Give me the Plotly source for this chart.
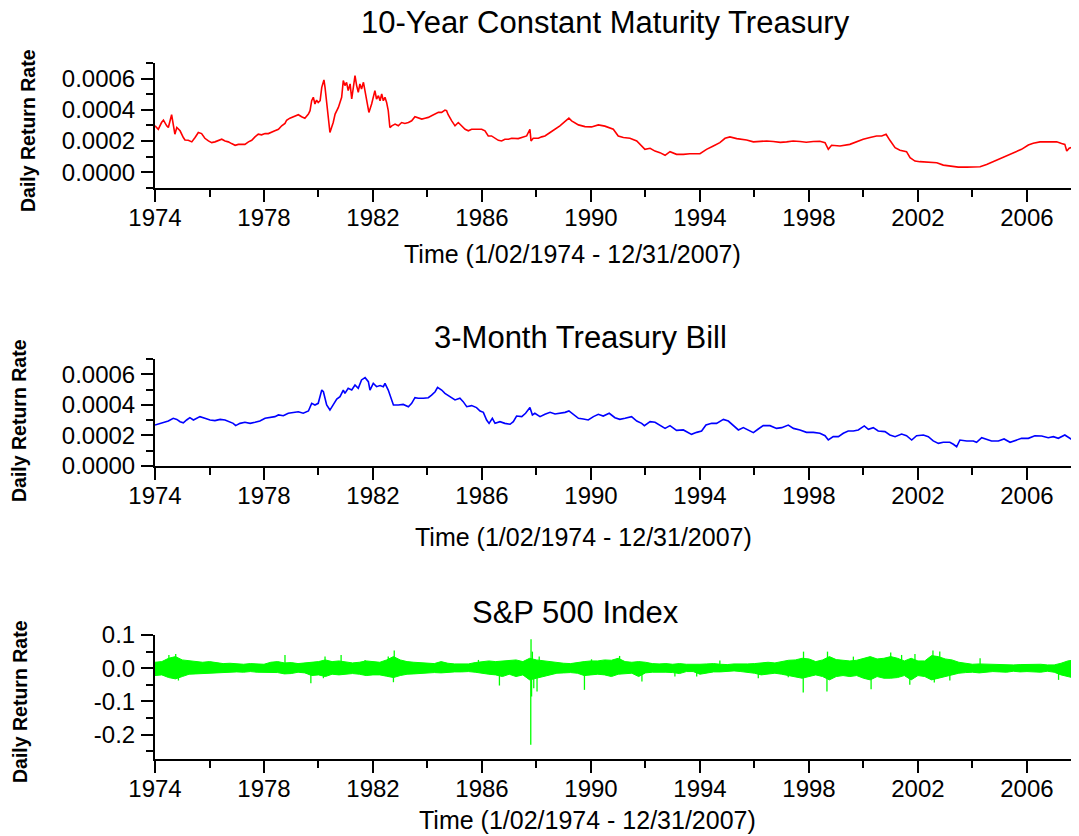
import plotly.graph_objects as go

FONT = "Liberation Sans, Arial, sans-serif"

# ---- 10-Year Constant Maturity Treasury (daily return rate) ----
ty10_year = [
    1974.00, 1974.12, 1974.24, 1974.31, 1974.43, 1974.49, 1974.61, 1974.67, 1974.73, 1974.80,
    1974.92, 1975.04, 1975.10, 1975.22, 1975.35, 1975.47, 1975.59, 1975.71, 1975.83, 1975.96,
    1976.08, 1976.20, 1976.32, 1976.45, 1976.57, 1976.69, 1976.81, 1976.94, 1977.06, 1977.18,
    1977.30, 1977.43, 1977.55, 1977.67, 1977.79, 1977.91, 1978.04, 1978.16, 1978.28, 1978.40,
    1978.53, 1978.65, 1978.77, 1978.83, 1978.95, 1979.14, 1979.26, 1979.38, 1979.50, 1979.63,
    1979.69, 1979.75, 1979.81, 1979.87, 1979.93, 1979.99, 1980.06, 1980.12, 1980.20, 1980.24,
    1980.30, 1980.36, 1980.42, 1980.48, 1980.54, 1980.61, 1980.73, 1980.85, 1980.91, 1980.97,
    1981.03, 1981.09, 1981.16, 1981.22, 1981.28, 1981.34, 1981.40, 1981.46, 1981.52, 1981.58,
    1981.65, 1981.71, 1981.77, 1981.85, 1981.95, 1982.01, 1982.07, 1982.13, 1982.20, 1982.26,
    1982.32, 1982.38, 1982.44, 1982.50, 1982.56, 1982.62, 1982.69, 1982.81, 1982.93, 1983.05,
    1983.17, 1983.30, 1983.42, 1983.54, 1983.66, 1983.79, 1983.91, 1984.03, 1984.15, 1984.28,
    1984.40, 1984.52, 1984.64, 1984.70, 1984.76, 1984.89, 1985.01, 1985.13, 1985.25, 1985.38,
    1985.50, 1985.62, 1985.87, 1985.99, 1986.11, 1986.23, 1986.35, 1986.48, 1986.60, 1986.72,
    1986.84, 1986.97, 1987.09, 1987.33, 1987.46, 1987.64, 1987.76, 1987.80, 1987.88, 1988.07,
    1988.19, 1988.31, 1988.50, 1988.68, 1988.86, 1989.05, 1989.19, 1989.29, 1989.41, 1989.54,
    1989.78, 1990.02, 1990.27, 1990.51, 1990.82, 1991.00, 1991.19, 1991.43, 1991.68, 1991.86,
    1991.98, 1992.17, 1992.35, 1992.53, 1992.72, 1992.90, 1993.14, 1993.39, 1993.63, 1994.00,
    1994.24, 1994.49, 1994.73, 1994.92, 1995.10, 1995.35, 1995.71, 1995.96, 1996.20, 1996.45,
    1996.69, 1996.95, 1997.18, 1997.42, 1997.67, 1997.90, 1998.16, 1998.40, 1998.59, 1998.71,
    1998.83, 1999.14, 1999.50, 1999.75, 1999.99, 2000.24, 2000.48, 2000.67, 2000.83, 2000.97,
    2001.16, 2001.34, 2001.58, 2001.71, 2001.89, 2002.07, 2002.44, 2002.69, 2002.93, 2003.30,
    2003.48, 2003.79, 2004.28, 2004.52, 2004.76, 2005.01, 2005.25, 2005.56, 2005.80, 2006.05,
    2006.23, 2006.48, 2006.84, 2007.09, 2007.27, 2007.39, 2007.46, 2007.55, 2007.65, 2007.76,
    2007.85, 2007.99,
]
ty10_rate = [
    0.000297, 0.000275, 0.000318, 0.000333, 0.000297, 0.000286, 0.000368, 0.000297, 0.000243, 0.000286,
    0.000265, 0.000222, 0.000206, 0.000204, 0.000194, 0.000222, 0.000254, 0.000247, 0.000217, 0.000200,
    0.000189, 0.000194, 0.000204, 0.000211, 0.000200, 0.000194, 0.000183, 0.000172, 0.000178, 0.000178,
    0.000178, 0.000194, 0.000204, 0.000226, 0.000243, 0.000239, 0.000247, 0.000247, 0.000254, 0.000265,
    0.000275, 0.000297, 0.000312, 0.000333, 0.000346, 0.000361, 0.000368, 0.000355, 0.000346, 0.000372,
    0.000394, 0.000458, 0.000480, 0.000437, 0.000462, 0.000447, 0.000458, 0.000544, 0.000591, 0.000544,
    0.000437, 0.000329, 0.000254, 0.000286, 0.000318, 0.000372, 0.000415, 0.000480, 0.000587, 0.000555,
    0.000576, 0.000523, 0.000566, 0.000469, 0.000544, 0.000619, 0.000555, 0.000512, 0.000566, 0.000533,
    0.000576, 0.000512, 0.000469, 0.000383, 0.000437, 0.000480, 0.000523, 0.000469, 0.000490, 0.000458,
    0.000501, 0.000458, 0.000480, 0.000447, 0.000394, 0.000286, 0.000297, 0.000308, 0.000297, 0.000318,
    0.000312, 0.000318, 0.000329, 0.000355, 0.000346, 0.000340, 0.000346, 0.000351, 0.000361, 0.000372,
    0.000383, 0.000383, 0.000398, 0.000394, 0.000368, 0.000329, 0.000297, 0.000318, 0.000297, 0.000275,
    0.000265, 0.000275, 0.000275, 0.000275, 0.000265, 0.000232, 0.000232, 0.000217, 0.000204, 0.000200,
    0.000211, 0.000211, 0.000217, 0.000215, 0.000222, 0.000232, 0.000275, 0.000200, 0.000217, 0.000217,
    0.000226, 0.000232, 0.000254, 0.000275, 0.000297, 0.000325, 0.000346, 0.000329, 0.000318, 0.000303,
    0.000292, 0.000290, 0.000303, 0.000295, 0.000275, 0.000232, 0.000222, 0.000217, 0.000200, 0.000168,
    0.000146, 0.000153, 0.000135, 0.000125, 0.000108, 0.000131, 0.000114, 0.000114, 0.000118, 0.000118,
    0.000146, 0.000168, 0.000189, 0.000217, 0.000226, 0.000215, 0.000206, 0.000194, 0.000196, 0.000200,
    0.000196, 0.000191, 0.000194, 0.000200, 0.000196, 0.000192, 0.000196, 0.000198, 0.000189, 0.000146,
    0.000172, 0.000168, 0.000178, 0.000196, 0.000211, 0.000222, 0.000232, 0.000232, 0.000243, 0.000204,
    0.000157, 0.000140, 0.000131, 0.000092, 0.000071, 0.000067, 0.000065, 0.000060, 0.000045, 0.000039,
    0.000032, 0.000032, 0.000034, 0.000049, 0.000067, 0.000082, 0.000103, 0.000125, 0.000146, 0.000174,
    0.000185, 0.000194, 0.000196, 0.000194, 0.000183, 0.000178, 0.000135, 0.000153, 0.000160, 0.000120,
    0.000125, 0.000115,
]

# ---- 3-Month Treasury Bill ----
tb3m_year = [
    1974.00, 1974.18, 1974.37, 1974.49, 1974.67, 1974.80, 1974.92, 1975.04, 1975.16, 1975.28,
    1975.41, 1975.53, 1975.65, 1975.83, 1976.02, 1976.20, 1976.39, 1976.57, 1976.75, 1976.87,
    1976.96, 1977.12, 1977.30, 1977.49, 1977.67, 1977.85, 1978.04, 1978.22, 1978.40, 1978.53,
    1978.71, 1978.89, 1979.08, 1979.26, 1979.44, 1979.63, 1979.75, 1979.87, 1979.99, 1980.12,
    1980.18, 1980.24, 1980.30, 1980.42, 1980.54, 1980.67, 1980.79, 1980.91, 1980.97, 1981.09,
    1981.22, 1981.34, 1981.46, 1981.58, 1981.71, 1981.83, 1981.89, 1982.01, 1982.13, 1982.26,
    1982.38, 1982.44, 1982.56, 1982.69, 1982.75, 1982.93, 1983.11, 1983.30, 1983.42, 1983.54,
    1983.66, 1983.85, 1984.03, 1984.15, 1984.28, 1984.37, 1984.52, 1984.64, 1984.83, 1985.01,
    1985.19, 1985.31, 1985.44, 1985.62, 1985.80, 1985.93, 1986.05, 1986.17, 1986.26, 1986.38,
    1986.48, 1986.66, 1986.84, 1987.03, 1987.15, 1987.27, 1987.46, 1987.60, 1987.76, 1987.85,
    1987.94, 1988.13, 1988.31, 1988.50, 1988.68, 1988.86, 1989.05, 1989.19, 1989.35, 1989.54,
    1989.72, 1989.90, 1990.09, 1990.27, 1990.45, 1990.67, 1990.88, 1991.06, 1991.25, 1991.49,
    1991.68, 1991.86, 1991.96, 1992.17, 1992.35, 1992.53, 1992.72, 1992.90, 1993.14, 1993.39,
    1993.57, 1993.69, 1993.88, 1994.06, 1994.22, 1994.43, 1994.61, 1994.86, 1995.04, 1995.22,
    1995.41, 1995.59, 1995.77, 1995.96, 1996.14, 1996.32, 1996.57, 1996.81, 1997.00, 1997.24,
    1997.43, 1997.67, 1997.91, 1998.16, 1998.40, 1998.59, 1998.71, 1998.89, 1999.08, 1999.26,
    1999.44, 1999.63, 1999.81, 2000.03, 2000.18, 2000.36, 2000.54, 2000.79, 2000.97, 2001.16,
    2001.40, 2001.58, 2001.77, 2001.95, 2002.20, 2002.38, 2002.56, 2002.75, 2002.93, 2003.17,
    2003.30, 2003.42, 2003.54, 2003.79, 2004.03, 2004.15, 2004.34, 2004.52, 2004.70, 2004.95,
    2005.16, 2005.38, 2005.56, 2005.80, 2006.05, 2006.29, 2006.54, 2006.78, 2006.97, 2007.15,
    2007.39, 2007.55, 2007.76, 2007.95,
]
tb3m_rate = [
    0.000268, 0.000279, 0.000290, 0.000294, 0.000312, 0.000305, 0.000290, 0.000283, 0.000301, 0.000316,
    0.000301, 0.000312, 0.000323, 0.000312, 0.000301, 0.000297, 0.000305, 0.000301, 0.000290, 0.000279,
    0.000264, 0.000279, 0.000286, 0.000279, 0.000286, 0.000294, 0.000312, 0.000316, 0.000323, 0.000334,
    0.000329, 0.000345, 0.000351, 0.000355, 0.000345, 0.000360, 0.000410, 0.000399, 0.000410, 0.000497,
    0.000486, 0.000443, 0.000399, 0.000366, 0.000399, 0.000438, 0.000454, 0.000497, 0.000475, 0.000508,
    0.000497, 0.000530, 0.000508, 0.000563, 0.000578, 0.000552, 0.000497, 0.000541, 0.000519, 0.000526,
    0.000519, 0.000541, 0.000497, 0.000432, 0.000399, 0.000399, 0.000403, 0.000388, 0.000410, 0.000447,
    0.000443, 0.000443, 0.000447, 0.000464, 0.000486, 0.000515, 0.000497, 0.000475, 0.000454, 0.000432,
    0.000443, 0.000421, 0.000388, 0.000395, 0.000382, 0.000360, 0.000351, 0.000301, 0.000279, 0.000312,
    0.000279, 0.000290, 0.000279, 0.000273, 0.000290, 0.000327, 0.000323, 0.000345, 0.000382, 0.000334,
    0.000345, 0.000323, 0.000338, 0.000351, 0.000340, 0.000345, 0.000351, 0.000360, 0.000338, 0.000312,
    0.000307, 0.000301, 0.000323, 0.000338, 0.000327, 0.000345, 0.000316, 0.000305, 0.000312, 0.000323,
    0.000294, 0.000279, 0.000264, 0.000290, 0.000286, 0.000264, 0.000246, 0.000264, 0.000233, 0.000236,
    0.000220, 0.000207, 0.000220, 0.000229, 0.000268, 0.000279, 0.000279, 0.000305, 0.000294, 0.000268,
    0.000236, 0.000251, 0.000236, 0.000218, 0.000242, 0.000264, 0.000264, 0.000246, 0.000251, 0.000268,
    0.000246, 0.000236, 0.000220, 0.000220, 0.000214, 0.000198, 0.000170, 0.000192, 0.000192, 0.000214,
    0.000229, 0.000229, 0.000236, 0.000262, 0.000240, 0.000251, 0.000229, 0.000225, 0.000203, 0.000192,
    0.000209, 0.000198, 0.000170, 0.000198, 0.000203, 0.000192, 0.000164, 0.000148, 0.000155, 0.000155,
    0.000142, 0.000126, 0.000170, 0.000164, 0.000164, 0.000155, 0.000185, 0.000177, 0.000164, 0.000164,
    0.000177, 0.000155, 0.000164, 0.000181, 0.000181, 0.000198, 0.000196, 0.000185, 0.000192, 0.000181,
    0.000203, 0.000185, 0.000160, 0.000158,
]

# ---- S&P 500 Index: quarterly envelope of the daily returns, plus the isolated spikes ----
sp_year = [1974 + 0.25 * i for i in range(137)]
sp_hi = [
    0.018, 0.020, 0.030, 0.035, 0.025, 0.022, 0.020, 0.018, 0.020, 0.016, 0.014, 0.015,
    0.013, 0.012, 0.014, 0.013, 0.012, 0.018, 0.020, 0.016, 0.017, 0.014, 0.016, 0.018,
    0.020, 0.025, 0.020, 0.022, 0.020, 0.016, 0.018, 0.022, 0.020, 0.018, 0.025, 0.035,
    0.025, 0.020, 0.018, 0.016, 0.015, 0.014, 0.020, 0.015, 0.013, 0.012, 0.013, 0.017,
    0.020, 0.022, 0.020, 0.022, 0.024, 0.025, 0.020, 0.030, 0.025, 0.022, 0.020, 0.016,
    0.015, 0.014, 0.018, 0.020, 0.022, 0.022, 0.025, 0.024, 0.030, 0.020, 0.018, 0.020,
    0.018, 0.014, 0.013, 0.014, 0.012, 0.014, 0.012, 0.011, 0.012, 0.013, 0.014, 0.012,
    0.011, 0.013, 0.012, 0.013, 0.014, 0.017, 0.018, 0.016, 0.020, 0.024, 0.025, 0.030,
    0.028, 0.020, 0.025, 0.035, 0.026, 0.025, 0.022, 0.024, 0.030, 0.035, 0.028, 0.030,
    0.035, 0.030, 0.022, 0.030, 0.022, 0.022, 0.038, 0.035, 0.028, 0.025, 0.018, 0.014,
    0.012, 0.013, 0.012, 0.011, 0.012, 0.011, 0.010, 0.011, 0.011, 0.013, 0.012, 0.010,
    0.010, 0.015, 0.022, 0.025, 0.022,
]
sp_lo = [
    -0.022, -0.020, -0.028, -0.032, -0.025, -0.018, -0.017, -0.016, -0.013, -0.014, -0.012, -0.012,
    -0.011, -0.012, -0.010, -0.012, -0.013, -0.014, -0.013, -0.017, -0.016, -0.012, -0.014, -0.022,
    -0.020, -0.025, -0.018, -0.020, -0.018, -0.016, -0.018, -0.022, -0.020, -0.020, -0.024, -0.028,
    -0.022, -0.018, -0.017, -0.015, -0.014, -0.013, -0.014, -0.012, -0.011, -0.011, -0.010, -0.012,
    -0.016, -0.018, -0.020, -0.025, -0.018, -0.025, -0.020, -0.035, -0.030, -0.025, -0.018, -0.015,
    -0.014, -0.013, -0.015, -0.022, -0.020, -0.018, -0.020, -0.025, -0.018, -0.017, -0.015, -0.025,
    -0.014, -0.012, -0.011, -0.012, -0.013, -0.016, -0.010, -0.010, -0.018, -0.014, -0.011, -0.011,
    -0.010, -0.008, -0.010, -0.012, -0.015, -0.020, -0.018, -0.015, -0.018, -0.022, -0.025, -0.030,
    -0.025, -0.020, -0.025, -0.035, -0.025, -0.022, -0.025, -0.022, -0.030, -0.035, -0.025, -0.030,
    -0.030, -0.028, -0.022, -0.035, -0.022, -0.025, -0.035, -0.030, -0.025, -0.020, -0.015, -0.013,
    -0.012, -0.014, -0.011, -0.010, -0.011, -0.012, -0.009, -0.011, -0.010, -0.012, -0.012, -0.009,
    -0.012, -0.020, -0.025, -0.030, -0.025,
]
sp_spike_year = [
    1974.51, 1974.76, 1974.86, 1978.77, 1979.72, 1980.18, 1980.24, 1980.83, 1981.71, 1982.56,
    1982.75, 1982.78, 1985.87, 1986.64, 1987.79, 1987.80, 1987.82, 1987.85, 1987.90, 1988.02,
    1988.10, 1989.76, 1990.02, 1991.05, 1991.87, 1993.08, 1993.88, 1994.73, 1996.14, 1997.24,
    1997.79, 1997.80, 1998.66, 1998.68, 1999.63, 2000.28, 2001.00, 2001.40, 2001.70, 2001.89,
    2002.55, 2002.60, 2002.80, 2003.17, 2004.28, 2007.16,
]
sp_spike_val = [
    0.040, 0.043, -0.037, 0.040, -0.045, -0.030, 0.035, 0.040, 0.025, 0.035,
    -0.042, 0.053, 0.025, -0.052, -0.230, 0.087, -0.085, 0.050, -0.060, -0.070,
    0.035, -0.065, 0.027, 0.037, -0.040, -0.025, -0.025, 0.023, -0.030, -0.027,
    -0.073, 0.050, -0.070, 0.050, 0.035, -0.063, 0.047, 0.040, -0.050, 0.043,
    0.053, -0.043, 0.050, -0.037, 0.030, -0.035,
]

year_ticks = [1974, 1978, 1982, 1986, 1990, 1994, 1998, 2002, 2006]
rate_ticks = [0.0, 0.0002, 0.0004, 0.0006]
rate_labels = ["0.0000", "0.0002", "0.0004", "0.0006"]
sp_ticks = [0.1, 0.0, -0.1, -0.2]
sp_labels = ["0.1", "0.0", "-0.1", "-0.2"]

# the page adds an 8px body margin, so the figure is drawn 8px in from the corner
OFF = 8
W, H = 1079 - OFF, 836 - OFF
L, R, T, B = 155 - OFF, 0, 63 - OFF, 77
PW = W - L - R
PH = H - T - B


def px(x):
    # page pixel -> paper x
    return (x - OFF - L) / PW


def py(y):
    # page pixel -> paper y
    return (H - B - (y - OFF)) / PH


def dom(y_bottom, y_top):
    return [max(0.0, py(y_bottom)), min(1.0, py(y_top))]


fig = go.Figure()

fig.add_trace(go.Scatter(x=ty10_year, y=ty10_rate, mode="lines",
                         line=dict(color="#ff0000", width=1.6), xaxis="x", yaxis="y"))
fig.add_trace(go.Scatter(x=tb3m_year, y=tb3m_rate, mode="lines",
                         line=dict(color="#0000ff", width=1.6), xaxis="x2", yaxis="y2"))

# S&P band
fig.add_trace(go.Scatter(x=sp_year, y=sp_hi, mode="lines",
                         line=dict(color="#00ff00", width=1), xaxis="x3", yaxis="y3"))
fig.add_trace(go.Scatter(x=sp_year, y=sp_lo, mode="lines", fill="tonexty",
                         fillcolor="#00ff00", line=dict(color="#00ff00", width=1),
                         xaxis="x3", yaxis="y3"))
spike_x, spike_y = [], []
for yr, v in zip(sp_spike_year, sp_spike_val):
    spike_x += [yr, yr, None]
    spike_y += [0, v, None]
fig.add_trace(go.Scatter(x=spike_x, y=spike_y, mode="lines",
                         line=dict(color="#00ff00", width=1.3), xaxis="x3", yaxis="y3"))

axis_common = dict(
    showline=True, linecolor="black", linewidth=2,
    ticks="outside", ticklen=12, tickwidth=2, tickcolor="black",
    showgrid=False, zeroline=False,
    tickfont=dict(family=FONT, size=24, color="black"),
)
x_common = dict(axis_common, range=[1974, 2007.91], tickvals=year_ticks, tickformat="d",
                ticklabelstandoff=-5,
                minor=dict(dtick=2, tick0=1974, ticks="outside", ticklen=7,
                           tickwidth=2, tickcolor="black"))
y_minor_rate = dict(dtick=0.0001, tick0=0, ticks="outside", ticklen=7,
                    tickwidth=2, tickcolor="black")

fig.update_layout(
    width=W, height=H,
    margin=dict(l=L, r=R, t=T, b=B),
    paper_bgcolor="white", plot_bgcolor="white",
    showlegend=False,
    font=dict(family=FONT, color="black"),
    xaxis=dict(x_common, anchor="y"),
    xaxis2=dict(x_common, anchor="y2"),
    xaxis3=dict(x_common, anchor="y3"),
    yaxis=dict(axis_common, domain=dom(187.7, 62.7), anchor="x", range=[-0.0001, 0.0007],
               tickvals=rate_ticks, ticktext=rate_labels, ticklabelstandoff=1,
               minor=y_minor_rate),
    yaxis2=dict(axis_common, domain=dom(466, 359), anchor="x2", range=[0, 0.0007],
                tickvals=rate_ticks, ticktext=rate_labels, ticklabelstandoff=1,
                minor=y_minor_rate),
    yaxis3=dict(axis_common, domain=dom(759, 635), anchor="x3", range=[-0.273, 0.1],
                tickvals=sp_ticks, ticktext=sp_labels, ticklabelstandoff=1,
                minor=dict(dtick=0.05, tick0=0, ticks="outside", ticklen=7,
                           tickwidth=2, tickcolor="black")),
)

# titles and axis labels placed as annotations (page pixel positions)
titles = [
    ("10-Year Constant Maturity Treasury", 605, 23),
    ("3-Month Treasury Bill", 580, 337),
    ("S&P 500 Index", 575, 612),
]
xlabels = [(572, 254), (583, 537), (587, 820)]
ylabels = [(28, 130), (19, 421), (20, 702)]

annotations = []
for text, x, y in titles:
    annotations.append(dict(text=text, x=px(x), y=py(y), xref="paper", yref="paper",
                            xanchor="center", yanchor="middle", showarrow=False,
                            borderpad=0,
                            font=dict(family=FONT, size=31, color="black")))
for x, y in xlabels:
    annotations.append(dict(text="Time (1/02/1974 - 12/31/2007)", x=px(x), y=py(y),
                            xref="paper", yref="paper", xanchor="center", yanchor="middle",
                            showarrow=False, borderpad=0,
                            font=dict(family=FONT, size=25, color="black")))
for x, y in ylabels:
    annotations.append(dict(text="<b>Daily Return Rate</b>", x=px(x), y=py(y),
                            xref="paper", yref="paper", xanchor="center", yanchor="middle",
                            textangle=-90, showarrow=False,
                            font=dict(family=FONT, size=19.5, color="black")))
fig.update_layout(annotations=annotations)

fig.write_html("out.html")
